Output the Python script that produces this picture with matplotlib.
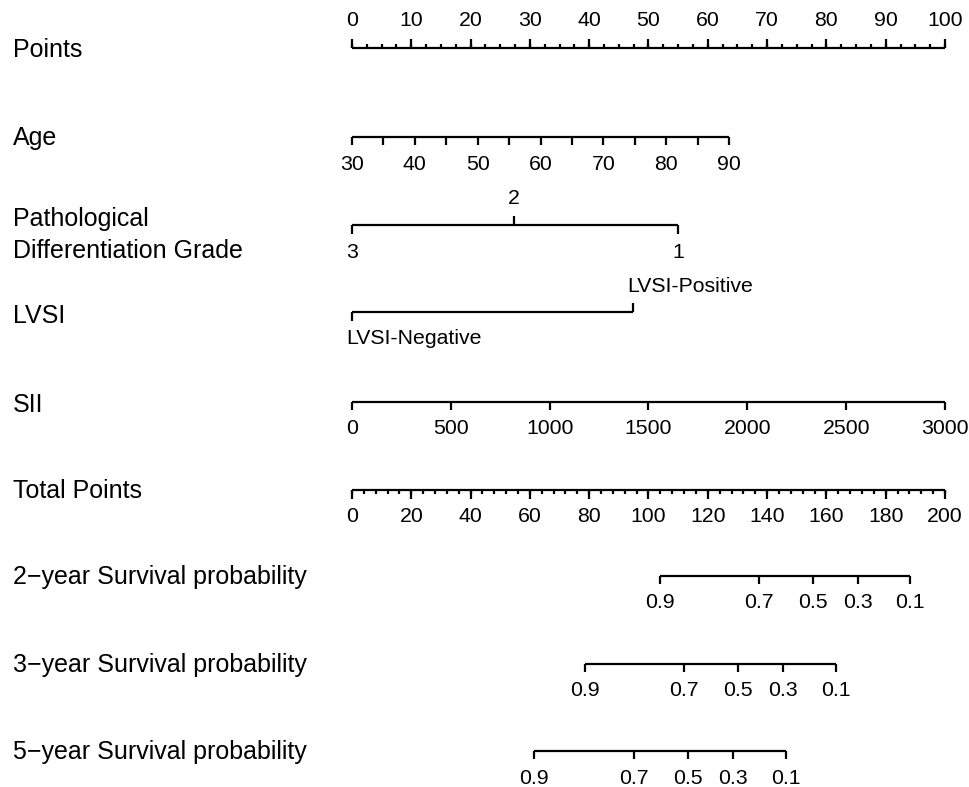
import matplotlib
matplotlib.use("Agg")
import matplotlib.pyplot as plt
import matplotlib.transforms as mtransforms
import numpy as np

plt.rcParams['font.family'] = ['Liberation Sans', 'DejaVu Sans']

# --- nomogram data (points scale 0-100) ---
points_ticks = np.arange(0, 101, 10)
points_minor = np.arange(0, 100.1, 2.5)

age_ticks = np.arange(30, 91, 5)
age_labels = np.arange(30, 91, 10)
age_max_points = 63.6          # points at age 90 (age 30 = 0)

grade_levels = ['3', '2', '1']
grade_points = [0, 27.3, 55.0]

lvsi_levels = ['LVSI-Negative', 'LVSI-Positive']
lvsi_points = [0, 47.4]

sii_ticks = np.arange(0, 3001, 500)
sii_max_points = 100.0         # points at SII 3000

total_ticks = np.arange(0, 201, 20)
total_minor = np.arange(0, 200.1, 4)

surv_probs = [0.9, 0.7, 0.5, 0.3, 0.1]
surv_2y_total = [103.9, 137.3, 155.5, 170.7, 188.2]
surv_3y_total = [78.6, 112.0, 130.2, 145.4, 163.2]
surv_5y_total = [61.4, 95.1, 113.3, 128.5, 146.4]

# --- layout (vertical positions in pixels from top) ---
W, H = 970, 787
x0_px, x100_px = 352, 945
ppu = (x100_px - x0_px) / 100.0

fig = plt.figure(figsize=(W / 100, H / 100), dpi=100)
ax = fig.add_axes([0, 0, 1, 1])
ax.set_xlim(-x0_px / ppu, (W - x0_px) / ppu)
ax.set_ylim(H, 0)
ax.axis('off')

lw = 1.6
tick_fs = 15.3
lab_fs = 18
lab_tr = mtransforms.blended_transform_factory(ax.transAxes, ax.transData)


def row_label(y, text):
    ax.text(13 / W, y, text, transform=lab_tr, fontsize=lab_fs,
            ha='left', va='center')


def axis_line(y, pts):
    ax.plot([min(pts), max(pts)], [y, y], color='black', lw=lw,
            solid_capstyle='butt')


def ticks(y, pts, length):
    for p in pts:
        ax.plot([p, p], [y, y + length], color='black', lw=lw,
                solid_capstyle='butt')


def labels(y, pts, texts, ha='center'):
    for p, t in zip(pts, texts):
        ax.text(p, y, t, fontsize=tick_fs, ha=ha, va='center')


# Points
y = 48
row_label(50, 'Points')
axis_line(y, points_ticks)
ticks(y, points_ticks, -9)
ticks(y, points_minor, -4)
labels(20, points_ticks, [str(v) for v in points_ticks])

# Age
y = 137
row_label(138, 'Age')
age_pts = (age_ticks - 30) / 60 * age_max_points
axis_line(y, age_pts)
ticks(y, age_pts, 8)
labels(164, (age_labels - 30) / 60 * age_max_points, [str(v) for v in age_labels])

# Pathological differentiation grade
y = 225
ax.text(13 / W, 219, 'Pathological', transform=lab_tr, fontsize=lab_fs,
        ha='left', va='center')
ax.text(13 / W, 251, 'Differentiation Grade', transform=lab_tr,
        fontsize=lab_fs, ha='left', va='center')
axis_line(y, grade_points)
ticks(y, [grade_points[0], grade_points[2]], 9)
ticks(y, [grade_points[1]], -9)
labels(252, [grade_points[0], grade_points[2]], [grade_levels[0], grade_levels[2]])
labels(199, [grade_points[1]], [grade_levels[1]])

# LVSI
y = 312
row_label(316, 'LVSI')
axis_line(y, lvsi_points)
ticks(y, [lvsi_points[0]], 9)
ticks(y, [lvsi_points[1]], -9)
labels(339, [lvsi_points[0] - 0.9], [lvsi_levels[0]], ha='left')
labels(287, [lvsi_points[1] - 1.0], [lvsi_levels[1]], ha='left')

# SII
y = 402
row_label(405, 'SII')
sii_pts = sii_ticks / 3000 * sii_max_points
axis_line(y, sii_pts)
ticks(y, sii_pts, 8)
labels(428, sii_pts, [str(v) for v in sii_ticks])

# Total points (0-200 mapped onto the 0-100 points scale)
y = 490
row_label(491, 'Total Points')
axis_line(y, total_ticks / 2)
ticks(y, total_ticks / 2, 9)
ticks(y, total_minor / 2, 4)
labels(517, total_ticks / 2, [str(v) for v in total_ticks])

# Survival probabilities
for y, name, tot in [(576, '2\u2212year Survival probability', surv_2y_total),
                     (664, '3\u2212year Survival probability', surv_3y_total),
                     (751, '5\u2212year Survival probability', surv_5y_total)]:
    row_label(y + 1, name)
    pts = np.array(tot) / 2
    axis_line(y, pts)
    ticks(y, pts, 8)
    labels(y + 27, pts, [f'{p:.1f}' for p in surv_probs])

fig.savefig('out.png', dpi=100)
